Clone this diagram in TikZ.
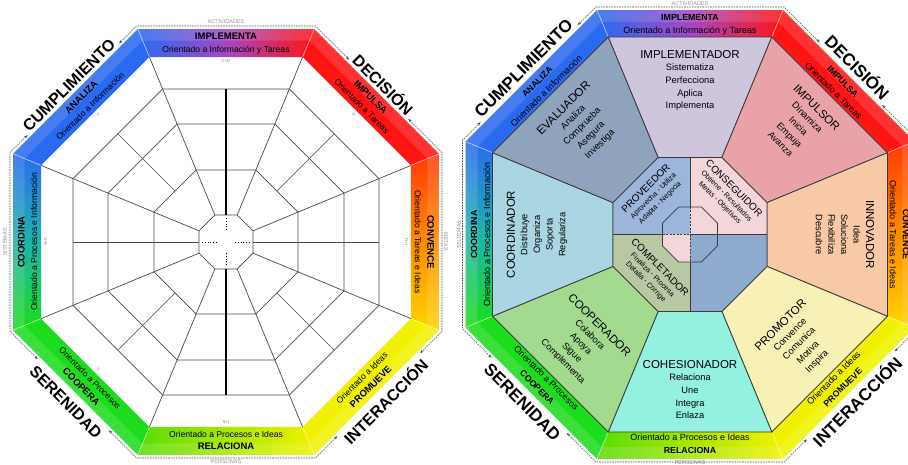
\documentclass[tikz,border=0pt]{standalone}
\usepackage{fontspec}
\setmainfont{Liberation Sans}
\usetikzlibrary{calc,arrows.meta}
\definecolor{cBlue}{HTML}{2A6AF0}
\definecolor{cPurple}{HTML}{A448C4}
\definecolor{cRed}{HTML}{FF1414}
\definecolor{cRedOr}{HTML}{FF3A08}
\definecolor{cOrange}{HTML}{FF8C00}
\definecolor{cYelOr}{HTML}{FFD400}
\definecolor{cYellow}{HTML}{F2F200}
\definecolor{cYG}{HTML}{5ADC08}
\definecolor{cGreen}{HTML}{1CDC1C}
\definecolor{cTeal}{HTML}{1EB4AA}
\definecolor{gline}{HTML}{4A4A4A}
\definecolor{sline}{HTML}{3A3A3A}
\definecolor{sImp}{HTML}{CFC5DD}
\definecolor{sImpu}{HTML}{E9A3A8}
\definecolor{sInn}{HTML}{F8C9A6}
\definecolor{sProm}{HTML}{F8F1B6}
\definecolor{sCoh}{HTML}{94F0DF}
\definecolor{sCoop}{HTML}{A2DB8F}
\definecolor{sCoord}{HTML}{A9D6E2}
\definecolor{sEval}{HTML}{8FA3BC}
\definecolor{qTL}{HTML}{9BB6DA}
\definecolor{qTR}{HTML}{F3D6DA}
\definecolor{qBL}{HTML}{B8C8A2}
\definecolor{qBR}{HTML}{8FAACF}
\newcommand\octo[1]{(22.5:#1) -- (67.5:#1) -- (112.5:#1) -- (157.5:#1) -- (202.5:#1) -- (247.5:#1) -- (292.5:#1) -- (337.5:#1) -- cycle}
\newcommand\seg[3]{({#1-22.5}:#2) -- ({#1+22.5}:#2) -- ({#1+22.5}:#3) -- ({#1-22.5}:#3) -- cycle}
\newcommand\bl[1]{{\fontsize{9.5}{12.5}\selectfont\bfseries #1}}
\newcommand\rb[1]{{\fontsize{8.8}{13}\selectfont\bfseries #1}}
\newcommand\ttl[1]{{\fontsize{11.5}{12.6}\selectfont #1}}
\newcommand\qttl[1]{{\fontsize{10}{11}\selectfont #1}}
\tikzset{
  grid/.style={draw=gline, line width=0.7pt},
  thickln/.style={draw=black, line width=1.8pt},
  joint/.style={draw=white, opacity=0.55, line width=0.7pt},
  bevel/.style={fill=white, opacity=0.13},
  lband/.style={align=center, inner sep=0pt, font=\fontsize{8.6}{12.5}\selectfont},
  rband/.style={align=center, inner sep=0pt, font=\fontsize{9}{13}\selectfont},
  bigL/.style={inner sep=0pt, font=\fontsize{16}{19}\selectfont\bfseries},
  bigR/.style={inner sep=0pt, font=\fontsize{17}{20}\selectfont\bfseries},
  tinylab/.style={inner sep=0pt, font=\fontsize{5.5}{6}\selectfont, text=gray!85},
  micro/.style={inner sep=0pt, font=\fontsize{4}{4}\selectfont, text=gray!90!black},
  sectf/.style={draw=sline, line width=0.8pt},
  secttxt/.style={align=center, inner sep=0pt, font=\fontsize{9.3}{12.6}\selectfont},
  quadtxt/.style={align=center, inner sep=0pt, font=\fontsize{7.3}{9.5}\selectfont},
  dsh/.style={draw=gray!60!black, line width=0.55pt, dash pattern=on 1.6pt off 1pt,
    {Stealth[length=3.6pt,width=2.8pt]}-{Stealth[length=3.6pt,width=2.8pt]},
    shorten <=3pt, shorten >=3pt}
}
\begin{document}
\begin{tikzpicture}[x=1pt,y=-1pt]
\useasboundingbox (0,0) rectangle (908,465);
\clip (0,0) rectangle (908,465);
\fill[white] (0,0) rectangle (908,465);

% ================= LEFT OCTAGON =================
\begin{scope}[shift={(226,242)}]
\def\Ro{230.55}\def\Ri{200.24}\def\Rb{218}
\path[left color=cBlue, right color=cRed, middle color=cPurple] \seg{270}{\Ro}{\Ri};
\path[fill=cRed] \seg{315}{\Ro}{\Ri};
\path[top color=cRedOr, bottom color=cYelOr, middle color=cOrange] \seg{0}{\Ro}{\Ri};
\path[fill=cYellow] \seg{45}{\Ro}{\Ri};
\path[left color=cYG, right color=cYellow] \seg{90}{\Ro}{\Ri};
\path[fill=cGreen] \seg{135}{\Ro}{\Ri};
\path[top color=cBlue, bottom color=cGreen, middle color=cTeal] \seg{180}{\Ro}{\Ri};
\path[fill=cBlue] \seg{225}{\Ro}{\Ri};
\path[bevel, even odd rule] \octo{\Ro} \octo{\Rb};
\foreach \a in {22.5,67.5,...,337.5} \draw[joint] (\a:\Ri) -- (\a:\Ro);
% grid
\draw[grid] \octo{29.22};
\draw[grid] \octo{77.93};
\draw[grid] \octo{127.72};
\draw[grid] \octo{165.61};
\foreach \a in {22.5,67.5,...,337.5} \draw[grid] (\a:29.22) -- (\a:200.24);
\draw[grid] (0:27) -- (0:153) (180:27) -- (180:153);
\foreach \a in {45,135,225,315} \draw[grid] (\a:72) -- (\a:153);
\draw[thickln] (270:27) -- (270:153) (90:27) -- (90:153);
\draw[black, dotted, line width=0.8pt] (270:24) -- (270:11) (90:11) -- (90:24) (180:24) -- (180:9) (0:9) -- (0:24);
% micro labels
\node[micro] (lm1) at (270:180.5) {C+D};
\node[micro, rotate=-45] (lm2) at (315:180.5) {D};
\node[micro, rotate=-90] (lm3) at (0:180.5) {D+I};
\node[micro, rotate=45] (lm4) at (45:180.5) {I};
\node[micro] (lm5) at (90:180.5) {S+I};
\node[micro, rotate=-45] (lm6) at (135:180.5) {S};
\node[micro, rotate=90] (lm7) at (180:180.5) {S+C};
\node[micro, rotate=45] (lm8) at (225:180.5) {C};
% band texts
\node[lband] (lImp) at (270:198.5) {\bl{IMPLEMENTA}\\Orientado a Información y Tareas};
\node[lband, rotate=-45] (lImpu) at (315:198.5) {\bl{IMPULSA}\\Orientado a Tareas};
\node[lband, rotate=-90] (lConv) at (0:198.5) {\bl{CONVENCE}\\Orientado a Tareas e Ideas};
\node[lband, rotate=45] (lProm) at (45:198.5) {Orientado a Ideas\\\bl{PROMUEVE}};
\node[lband] (lRel) at (90:198.5) {Orientado a Procesos e Ideas\\\bl{RELACIONA}};
\node[lband, rotate=-45] (lCoop) at (135:198.5) {Orientado a Procesos\\\bl{COOPERA}};
\node[lband, rotate=90] (lCoor) at (180:198.5) {\bl{COORDINA}\\Orientado a Procesos e Información};
\node[lband, rotate=45] (lAna) at (225:198.5) {\bl{ANALIZA}\\Orientado a Información};
% big labels
\node[bigL, rotate=45, anchor=base] (lCum) at (225:216.5) {CUMPLIMIENTO};
\node[bigL, rotate=-45, anchor=base] (lDec) at (315:216) {DECISIÓN};
\node[bigL, rotate=45, anchor=base] (lInt) at (45:232) {INTERACCIÓN};
\node[bigL, rotate=-45, anchor=base] (lSer) at (135:232) {SERENIDAD};
% small outer labels
\node[tinylab] (lAct) at (270:220) {ACTIVIDADES};
\node[tinylab, rotate=90] (lSis) at (180:221) {SISTEMAS};
\node[tinylab, rotate=-90] (lMet) at (0:220) {METAS};
\node[tinylab] (lPer) at (90:220) {PERSONAS};
\foreach \k/\a in {0/22.5,1/67.5,2/112.5,3/157.5,4/202.5,5/247.5,6/292.5,7/337.5}
  \coordinate (Ld\k) at (\a:233.8);
\end{scope}
\coordinate (pLcW) at ($(Ld4)!(lCum.west)!(Ld5)$);
\coordinate (pLcE) at ($(Ld4)!(lCum.east)!(Ld5)$);
\coordinate (pLdW) at ($(Ld6)!(lDec.west)!(Ld7)$);
\coordinate (pLdE) at ($(Ld6)!(lDec.east)!(Ld7)$);
\coordinate (pLiW) at ($(Ld1)!(lInt.west)!(Ld0)$);
\coordinate (pLiE) at ($(Ld1)!(lInt.east)!(Ld0)$);
\coordinate (pLsW) at ($(Ld3)!(lSer.west)!(Ld2)$);
\coordinate (pLsE) at ($(Ld3)!(lSer.east)!(Ld2)$);
\draw[dsh] (pLcE) -- (Ld5) -- (Ld6) -- (pLdW);
\draw[dsh] (pLdE) -- (Ld7) -- (Ld0) -- (pLiE);
\draw[dsh] (pLiW) -- (Ld1) -- (Ld2) -- (pLsE);
\draw[dsh] (pLsW) -- (Ld3) -- (Ld4) -- (pLcW);

% ================= RIGHT OCTAGON =================
\begin{scope}[shift={(690,234.5)}]
\def\Ro{243.0}\def\Ri{213.77}\def\Rm{83.34}\def\Rs{29.77}\def\Rb{230}
\path[left color=cBlue, right color=cRed, middle color=cPurple] \seg{270}{\Ro}{\Ri};
\path[fill=cRed] \seg{315}{\Ro}{\Ri};
\path[top color=cRedOr, bottom color=cYelOr, middle color=cOrange] \seg{0}{\Ro}{\Ri};
\path[fill=cYellow] \seg{45}{\Ro}{\Ri};
\path[left color=cYG, right color=cYellow] \seg{90}{\Ro}{\Ri};
\path[fill=cGreen] \seg{135}{\Ro}{\Ri};
\path[top color=cBlue, bottom color=cGreen, middle color=cTeal] \seg{180}{\Ro}{\Ri};
\path[fill=cBlue] \seg{225}{\Ro}{\Ri};
\path[bevel, even odd rule] \octo{\Ro} \octo{\Rb};
\foreach \a in {22.5,67.5,...,337.5} \draw[joint] (\a:\Ri) -- (\a:\Ro);
% sectors
\path[sectf, fill=sImp] \seg{270}{\Ri}{\Rm};
\path[sectf, fill=sImpu] \seg{315}{\Ri}{\Rm};
\path[sectf, fill=sInn] \seg{0}{\Ri}{\Rm};
\path[sectf, fill=sProm] \seg{45}{\Ri}{\Rm};
\path[sectf, fill=sCoh] \seg{90}{\Ri}{\Rm};
\path[sectf, fill=sCoop] \seg{135}{\Ri}{\Rm};
\path[sectf, fill=sCoord] \seg{180}{\Ri}{\Rm};
\path[sectf, fill=sEval] \seg{225}{\Ri}{\Rm};
% quadrants
\fill[qTL] (0,0) -- (180:77) -- (202.5:\Rm) -- (247.5:\Rm) -- (270:77) -- cycle;
\fill[qTR] (0,0) -- (270:77) -- (292.5:\Rm) -- (337.5:\Rm) -- (0:77) -- cycle;
\fill[qBR] (0,0) -- (0:77) -- (22.5:\Rm) -- (67.5:\Rm) -- (90:77) -- cycle;
\fill[qBL] (0,0) -- (90:77) -- (112.5:\Rm) -- (157.5:\Rm) -- (180:77) -- cycle;
\fill[qTL] (0,0) -- (180:27.5) -- (202.5:\Rs) -- (247.5:\Rs) -- (270:27.5) -- cycle;
\fill[qTR] (0,0) -- (270:27.5) -- (292.5:\Rs) -- (337.5:\Rs) -- (0:27.5) -- cycle;
\fill[qBR] (0,0) -- (0:27.5) -- (22.5:\Rs) -- (67.5:\Rs) -- (90:27.5) -- cycle;
\fill[qTR] (0,0) -- (90:27.5) -- (112.5:\Rs) -- (157.5:\Rs) -- (180:27.5) -- cycle;
\draw[sectf] \octo{\Rm};
\draw[sectf] (270:77) -- (270:27.5) (90:27.5) -- (90:77) (180:77) -- (180:27.5) (0:27.5) -- (0:77);
\draw[sectf] (0:0) -- (0:27.5);
\draw[sectf] \octo{\Rs};
\draw[sline, line width=0.8pt, dash pattern=on 2pt off 1.5pt] (270:27.5) -- (90:27.5) (180:27.5) -- (0:0);
% sector texts
\node[secttxt] (tImp) at (270:154) {\ttl{IMPLEMENTADOR}\\Sistematiza\\Perfecciona\\Aplica\\Implementa};
\node[secttxt, rotate=-45] (tImpu) at (315:154) {\ttl{IMPULSOR}\\Dinamiza\\Inicia\\Empuja\\Avanza};
\node[secttxt, rotate=-90] (tInn) at (0:155) {\ttl{INNOVADOR}\\Idea\\Soluciona\\Flexibiliza\\Descubre};
\node[secttxt, rotate=45] (tProm) at (45:154) {\ttl{PROMOTOR}\\Convence\\Comunica\\Motiva\\Inspira};
\node[secttxt] (tCoh) at (90:155) {\ttl{COHESIONADOR}\\Relaciona\\Une\\Integra\\Enlaza};
\node[secttxt, rotate=-45] (tCoop) at (135:154) {\ttl{COOPERADOR}\\Colabora\\Apoya\\Sigue\\Complementa};
\node[secttxt, rotate=90] (tCoord) at (180:153) {\ttl{COORDINADOR}\\Distribuye\\Organiza\\Soporta\\Regulariza};
\node[secttxt, rotate=45] (tEval) at (225:153) {\ttl{EVALUADOR}\\Analiza\\Comprueba\\Asegura\\Investiga};
\node[quadtxt, rotate=45] (tProv) at (-37,-39) {\qttl{PROVEEDOR}\\Aprovecha - Utiliza\\Adapta - Negocia};
\node[quadtxt, rotate=-45] (tCons) at (37,-39) {\qttl{CONSEGUIDOR}\\Obtiene - Resultados\\Metas - Objetivos};
\node[quadtxt, rotate=-45] (tComp) at (-37,40) {\qttl{COMPLETADOR}\\Finaliza - Procesa\\Detalla - Corrige};
% band texts
\node[rband] (rImp) at (270:209.5) {\rb{IMPLEMENTA}\\Orientado a Información y Tareas};
\node[rband, rotate=-45] (rImpu) at (315:209.5) {\rb{IMPULSA}\\Orientado a Tareas};
\node[rband, rotate=-90] (rConv) at (0:209.5) {\rb{CONVENCE}\\Orientado a Tareas e Ideas};
\node[rband, rotate=45] (rProm) at (45:209.5) {Orientado a Ideas\\\rb{PROMUEVE}};
\node[rband] (rRel) at (90:209.5) {Orientado a Procesos e Ideas\\\rb{RELACIONA}};
\node[rband, rotate=-45] (rCoop) at (135:209.5) {Orientado a Procesos\\\rb{COOPERA}};
\node[rband, rotate=90] (rCoor) at (180:209.5) {\rb{COORDINA}\\Orientado a Procesos e Información};
\node[rband, rotate=45] (rAna) at (225:209.5) {\rb{ANALIZA}\\Orientado a Información};
% big labels
\node[bigR, rotate=45, anchor=base] (rCum) at (225:229.5) {CUMPLIMIENTO};
\node[bigR, rotate=-45, anchor=base] (rDec) at (315:230) {DECISIÓN};
\node[bigR, rotate=45, anchor=base] (rInt) at (45:243) {INTERACCIÓN};
\node[bigR, rotate=-45, anchor=base] (rSer) at (135:243) {SERENIDAD};
\node[tinylab] (rAct) at (270:231) {ACTIVIDADES};
\node[tinylab, rotate=90] (rSis) at (180:231) {SISTEMAS};
\node[tinylab] (rPer) at (90:228.5) {PERSONAS};
\foreach \k/\a in {0/22.5,1/67.5,2/112.5,3/157.5,4/202.5,5/247.5,6/292.5,7/337.5}
  \coordinate (Rd\k) at (\a:246.24);
\end{scope}
\coordinate (pRcW) at ($(Rd4)!(rCum.west)!(Rd5)$);
\coordinate (pRcE) at ($(Rd4)!(rCum.east)!(Rd5)$);
\coordinate (pRdW) at ($(Rd6)!(rDec.west)!(Rd7)$);
\coordinate (pRdE) at ($(Rd6)!(rDec.east)!(Rd7)$);
\coordinate (pRiW) at ($(Rd1)!(rInt.west)!(Rd0)$);
\coordinate (pRiE) at ($(Rd1)!(rInt.east)!(Rd0)$);
\coordinate (pRsW) at ($(Rd3)!(rSer.west)!(Rd2)$);
\coordinate (pRsE) at ($(Rd3)!(rSer.east)!(Rd2)$);
\draw[dsh] (pRcE) -- (Rd5) -- (Rd6) -- (pRdW);
\draw[dsh] (pRdE) -- (Rd7) -- (Rd0) -- (pRiE);
\draw[dsh] (pRiW) -- (Rd1) -- (Rd2) -- (pRsE);
\draw[dsh] (pRsW) -- (Rd3) -- (Rd4) -- (pRcW);
\end{tikzpicture}
\end{document}
